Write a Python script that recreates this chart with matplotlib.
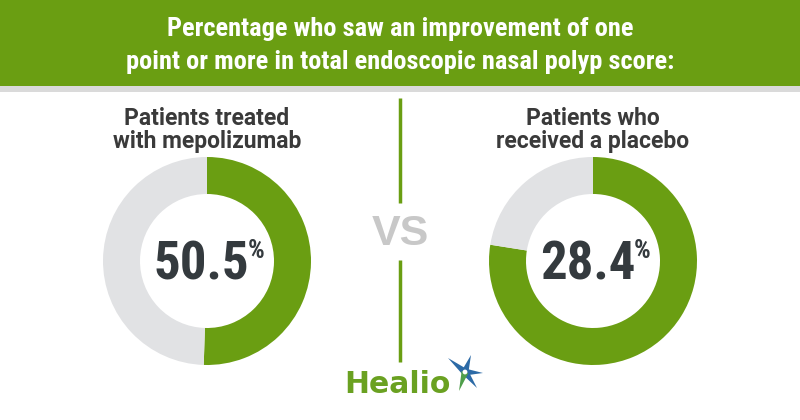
import matplotlib
matplotlib.use("Agg")
import matplotlib.pyplot as plt
from matplotlib import font_manager as fm
from matplotlib.patches import Rectangle, Polygon
import numpy as np

# ---- data ----
title_lines = ["Percentage who saw an improvement of one",
               "point or more in total endoscopic nasal polyp score:"]
group_labels = ["Patients treated\nwith mepolizumab", "Patients who\nreceived a placebo"]
value_labels = ["50.5", "28.4"]
green_arc_share = [50.5, 77.5]   # green share of each ring as drawn in the picture
vs_label = "VS"
brand = "Healio"

GREEN = "#6a9e12"
LIGHT = "#e1e2e4"
DARK = "#343a3e"
VSGRAY = "#c8c8c8"

names = {f.name for f in fm.fontManager.ttflist}

def pick(cands):
    for c in cands:
        if c in names:
            return c
    return "DejaVu Sans"

COND = pick(["Roboto Condensed", "Liberation Sans Narrow", "DejaVu Sans"])
SANS = pick(["Roboto", "Open Sans", "DejaVu Sans"])
ARIAL = pick(["Liberation Sans", "DejaVu Sans"])

W, H = 800, 420
fig = plt.figure(figsize=(W / 100, H / 100), dpi=100)
ax = fig.add_axes([0, 0, 1, 1])
ax.set_xlim(0, W)
ax.set_ylim(H, 0)
ax.axis("off")

# header
ax.add_patch(Rectangle((0, 0), W, 86, color=GREEN, lw=0))
ax.add_patch(Rectangle((0, 86), W, 6, color="#dadada", lw=0))
ax.text(400, 29, title_lines[0], ha="center", va="center", color="white",
        fontsize=19, fontweight="bold", family=COND)
ax.text(400, 62, title_lines[1], ha="center", va="center", color="white",
        fontsize=19, fontweight="bold", family=COND)

# divider
ax.plot([400, 400], [98, 203], color=GREEN, lw=2.5, solid_capstyle="butt")
ax.plot([400, 400], [260, 362], color=GREEN, lw=2.5, solid_capstyle="butt")
ax.text(400, 234, vs_label, ha="center", va="center", color=VSGRAY,
        fontsize=31, fontweight="bold", family=ARIAL)

centers = [207, 593]
cy = 261
R = 104
for i, cx in enumerate(centers):
    ax.text(cx, 130, group_labels[i], ha="center", va="center", color="#3a3a3a",
            fontsize=16.5, fontweight="bold", family=SANS, linespacing=1.05)
    dax = fig.add_axes([(cx - R) / W, (H - cy - R) / H, 2 * R / W, 2 * R / H])
    g = green_arc_share[i]
    dax.pie([g, 100 - g], colors=[GREEN, LIGHT], startangle=90, counterclock=False,
            radius=1, wedgeprops=dict(width=37 / R, linewidth=0))
    dax.set_xlim(-1, 1)
    dax.set_ylim(-1, 1)
    dax.axis("off")
    dax.text(-0.05, -0.04, value_labels[i], ha="center", va="center", color=DARK,
             fontsize=38, fontweight="bold", family=COND)
    dax.text(0.475, 0.1, "%", ha="center", va="center", color=DARK,
             fontsize=19, fontweight="bold", family=COND)

# brand
ax.text(397, 393, brand, ha="center", va="baseline", color="#6aa121",
        fontsize=21.5, fontweight="bold", family="DejaVu Sans")
scx, scy = 465, 372
tips = [(-17, -14, "#2c6aa6"), (6, -17, "#2c6aa6"), (18, 1, "#2c6aa6"),
        (12, 16, "#2c6aa6"), (-6, 19, "#4f9e4a")]
for dx, dy, col in tips:
    ang = np.arctan2(dy, dx)
    w = 3.5
    p1 = (scx + w * np.cos(ang + np.pi / 2), scy + w * np.sin(ang + np.pi / 2))
    p2 = (scx + w * np.cos(ang - np.pi / 2), scy + w * np.sin(ang - np.pi / 2))
    ax.add_patch(Polygon([p1, (scx + dx, scy + dy), p2], closed=True, color=col, lw=0))
ax.add_patch(plt.Circle((scx, scy), 2.4, color="white", lw=0))

fig.savefig("out.png", dpi=100)
